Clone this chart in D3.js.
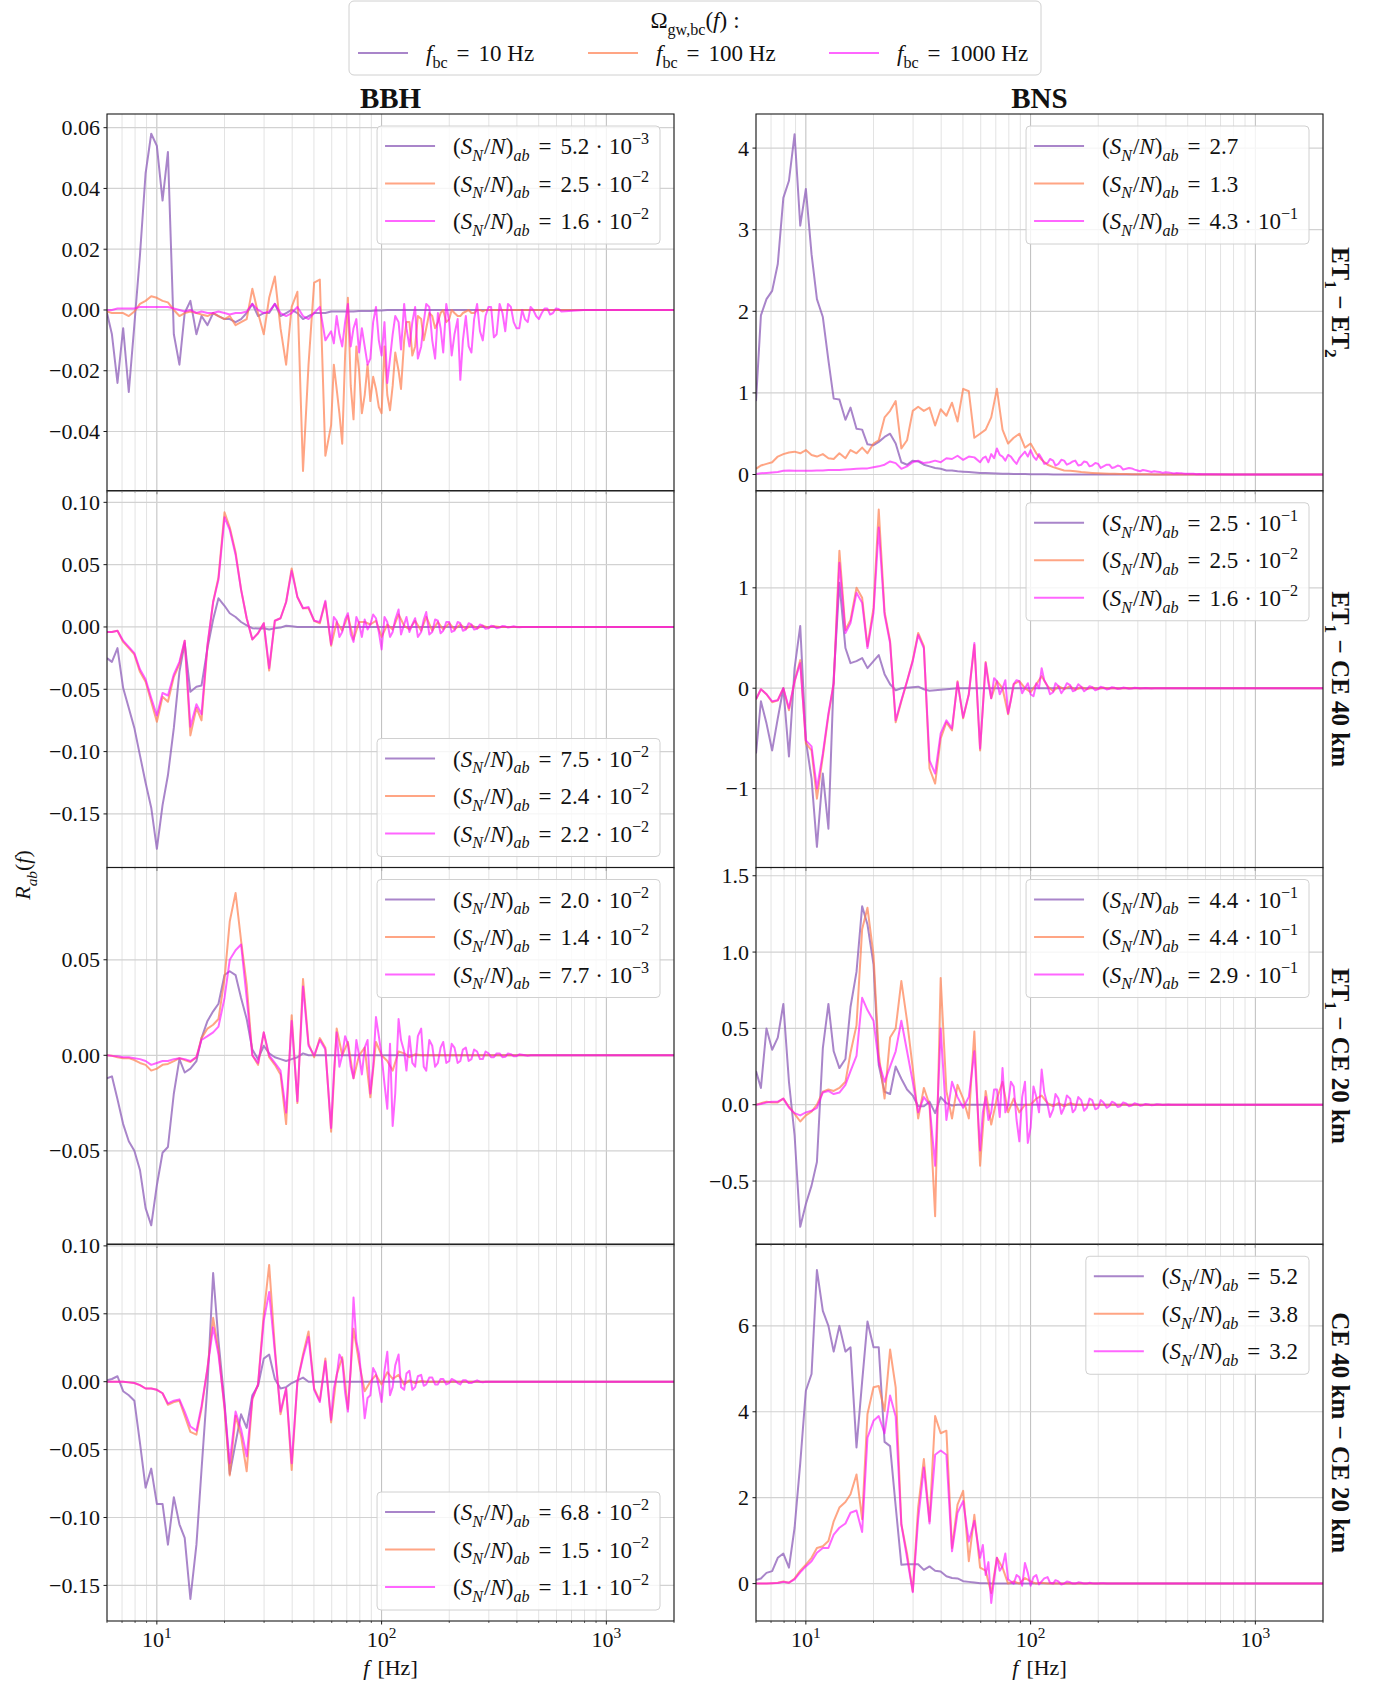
<!DOCTYPE html>
<html><head><meta charset="utf-8">
<script src="https://cdn.jsdelivr.net/npm/d3@7"></script>
<style>
body{margin:0;background:#fff;}
svg text{font-family:"Liberation Serif","DejaVu Serif",serif;fill:#111;}
</style></head><body>
<svg id="chart" width="1386" height="1684"></svg>
<script>
// ---------------- data ----------------
const FREQ = [6.0,6.31,6.68,7.08,7.5,7.94,8.41,8.91,9.44,10,
 10.6,11.2,11.9,12.6,13.3,14.1,15.0,15.8,16.8,17.8,
 18.8,20.0,21.1,22.4,23.7,25.1,26.6,28.2,29.9,31.6,
 33.5,35.5,37.6,39.8,42.2,44.7,47.3,50.1,53.1,56.2,
 59.6,63.1,66.8,70.8,75.0,79.4,84.1,89.1,94.4,100,
 106,112,119,126,133,141,150,158,168,178,
 188,200,211,224,237,251,266,282,299,316,
 335,355,376,398,422,447,473,501,531,562,
 596,631,794,1000,1259,1585,2000];
// extra sample frequencies in the noisy high-frequency band
const FREQ_MID = [61.3,64.9,68.8,72.9,77.2,81.7,86.6,91.7,97.2,103,
 109,115,122,129,137,145,154,163,173,183,
 194,205,218,230,244,258,274,290,307,325,
 345,365,387,410,434,460,487,516,546,579,613];

const FBC_LABELS = ["10 Hz","100 Hz","1000 Hz"];
const COLUMN_TITLES = ["BBH","BNS"];
const ROW_LABELS = ["ET_1 − ET_2","ET_1 − CE 40 km","ET_1 − CE 20 km","CE 40 km − CE 20 km"];
const X_TICK_EXP = [1,2,3];

// BBH, ET1 - ET2
const BBH_ET1ET2_F10 = [-0.001,-0.008,-0.024,-0.006,-0.027,-0.005,0.018,0.045,0.058,0.054,
 0.036,0.052,-0.008,-0.018,-0.001,0.003,-0.008,-0.002,-0.005,-0.001,
 -0.002,-0.003,-0.003,-0.004,-0.003,-0.001,0.002,-0.002,-0.001,-0.001,
 0.002,-0.002,-0.001,0,-0.001,-0.003,-0.002,-0.001,-0.001,-0.001,
 -0.0005,-0.0005,-0.0005,-0.0005,-0.0005,-0.0003,-0.0003,-0.0003,-0.0002,-0.0002,
 0,0,0,0,0,0,0,0,0,0, 0,0,0,0,0,0,0,0,0,0, 0,0,0,0,0,0,0,0,0,0, 0,0,0,0,0,0,0];
const BBH_ET1ET2_F100 = [-0.0005,-0.001,-0.001,-0.001,-0.002,-0.0005,0.002,0.003,0.0045,0.004,
 0.003,0.0025,0,-0.002,-0.001,-0.0005,-0.001,-0.0015,-0.002,-0.001,
 -0.002,-0.003,-0.002,-0.005,-0.004,-0.003,0.007,-0.001,-0.008,0.004,
 0.011,-0.006,-0.018,0.001,0.006,-0.053,-0.018,0.009,0.010,-0.048,
 -0.038,-0.026,-0.044,0.004,-0.036,-0.020,-0.028,-0.030,-0.026,-0.034,
 -0.028,-0.025,-0.020,-0.010,-0.004,-0.012,-0.003,-0.006,-0.002,-0.004,
 0,-0.003,-0.001,-0.002,-0.0005,-0.001,0,-0.0005,0,0,
 0,0,0,0,0,0,0,0,0,0, 0,0,0,0,0,0,0];
const BBH_ET1ET2_F100_MID = [-0.018,-0.034,-0.015,-0.025,-0.012,-0.034,-0.018,-0.022,-0.032,-0.012,
 -0.033,-0.014,-0.026,-0.004,-0.015,-0.002,-0.010,-0.001,-0.006,-0.001,
 -0.004,0,-0.002,-0.001,0,-0.001,0,0,0,0,
 0,0,0,0,0,0,0,0,0,0,0];
const BBH_ET1ET2_F1000 = [0,0,0.0005,0.0005,0.0005,0.0005,0.001,0.001,0.001,0.001,
 0.001,0.001,0.0005,0,-0.0005,0,-0.001,-0.0005,-0.001,-0.001,
 -0.0005,-0.001,-0.0015,-0.001,-0.001,-0.0005,0.002,0,-0.001,-0.0005,
 0.002,-0.001,-0.002,-0.001,0.001,-0.002,-0.003,-0.001,0.001,-0.010,
 -0.007,-0.002,-0.012,0.002,-0.006,-0.014,-0.012,-0.016,0.001,-0.015,
 -0.024,-0.008,-0.004,0.002,-0.012,0.001,-0.012,0.002,-0.010,-0.001,
 -0.014,-0.004,-0.008,-0.023,-0.002,-0.014,0.002,-0.010,0.001,-0.009,
 0.002,-0.007,0.001,-0.006,0,-0.004,0,-0.003,0.0005,-0.0015,
 0.0005,-0.0005,0,0,0,0,0];
const BBH_ET1ET2_F1000_MID = [-0.011,-0.008,-0.004,-0.012,-0.003,-0.006,-0.018,-0.004,-0.010,-0.004,
 -0.016,-0.002,-0.013,-0.006,-0.004,-0.016,-0.004,0.001,-0.016,-0.006,
 0.002,-0.015,-0.003,-0.010,-0.012,-0.003,-0.007,-0.002,0.001,-0.008,
 -0.001,0.002,-0.004,-0.006,-0.003,0.001,-0.002,-0.001,0.0005,-0.001,0.0003];

// BBH, ET1 - CE 40 km
const BBH_ET1CE40_F10 = [-0.025,-0.028,-0.017,-0.049,-0.065,-0.081,-0.103,-0.125,-0.145,-0.178,
 -0.143,-0.119,-0.081,-0.036,-0.013,-0.052,-0.048,-0.047,-0.017,0.006,
 0.023,0.017,0.011,0.008,0.004,0.0013,-0.001,-0.0013,-0.001,-0.002,
 -0.001,-0.0005,0.001,0.0005,0,0,0,0,0,0,
 0,0,0,0,0,0,0,0,0,0, 0,0,0,0,0,0,0,0,0,0, 0,0,0,0,0,0,0,0,0,0, 0,0,0,0,0,0,0,0,0,0, 0,0,0,0,0,0,0];
const BBH_ET1CE40_F100 = [-0.004,-0.004,-0.003,-0.012,-0.017,-0.022,-0.036,-0.044,-0.060,-0.076,
 -0.056,-0.060,-0.040,-0.030,-0.011,-0.087,-0.065,-0.075,-0.015,0.020,
 0.040,0.092,0.080,0.060,0.030,0.007,-0.010,-0.005,0.003,-0.035,
 0.005,0.007,0.020,0.047,0.024,0.015,0.015,0.005,0.003,0.020,
 -0.015,0.004,-0.003,0.009,-0.010,0.004,0.004,0.002,0.005,-0.008,
 0.002,-0.002,0.010,0.001,-0.002,0.005,-0.003,0.008,-0.003,0.004,
 -0.002,0.003,-0.002,0.002,-0.0015,0.0015,-0.001,0.001,-0.0005,0.0005,
 0,0,0,0,0,0,0,0,0,0, 0,0,0,0,0,0,0];
const BBH_ET1CE40_F1000 = [-0.004,-0.004,-0.003,-0.011,-0.016,-0.021,-0.034,-0.042,-0.057,-0.071,
 -0.053,-0.055,-0.038,-0.028,-0.011,-0.080,-0.062,-0.070,-0.014,0.020,
 0.038,0.088,0.078,0.058,0.030,0.007,-0.010,-0.005,0.003,-0.033,
 0.005,0.007,0.020,0.045,0.024,0.015,0.016,0.005,0.004,0.021,
 -0.014,0.005,-0.004,0.011,-0.012,0.003,0.006,0.002,0.007,-0.018,
 0.004,-0.004,0.014,0.002,-0.004,0.007,-0.004,0.012,-0.004,0.005,
 -0.003,0.004,-0.003,0.003,-0.002,0.002,-0.0015,0.001,-0.001,0.0005,
 -0.0005,0.0005,0,0,0,0,0,0,0,0, 0,0,0,0,0,0,0];
const BBH_ET1CE40_F1000_MID = [0.008,-0.008,0.006,-0.006,0.008,-0.008,-0.002,0.010,-0.004,0.008,
 -0.008,0.006,-0.006,0.008,0.002,-0.008,0.006,-0.006,0.006,-0.005,
 0.004,-0.004,0.004,-0.003,0.003,-0.002,0.002,-0.0015,0.001,-0.001,
 0.0008,-0.0005,0.0005,-0.0003,0,0,0,0,0,0,0];

// BBH, ET1 - CE 20 km
const BBH_ET1CE20_F10 = [-0.012,-0.011,-0.023,-0.036,-0.045,-0.050,-0.060,-0.080,-0.089,-0.068,
 -0.051,-0.048,-0.020,-0.002,-0.009,-0.007,-0.003,0.009,0.018,0.023,
 0.027,0.042,0.044,0.042,0.030,0.019,0.003,-0.002,0.005,0.001,
 -0.001,-0.002,-0.003,-0.002,-0.001,0.001,0,0,0,0,
 0,0,0,0,0,0,0,0,0,0, 0,0,0,0,0,0,0,0,0,0, 0,0,0,0,0,0,0,0,0,0, 0,0,0,0,0,0,0,0,0,0, 0,0,0,0,0,0,0];
const BBH_ET1CE20_F100 = [0,-0.0002,-0.001,-0.0015,-0.0015,-0.0025,-0.004,-0.005,-0.008,-0.007,
 -0.005,-0.0045,-0.003,-0.0015,-0.0025,-0.0035,-0.001,0.009,0.014,0.016,
 0.019,0.040,0.070,0.085,0.060,0.037,0,-0.005,0.012,-0.001,
 -0.005,-0.010,-0.036,0.021,-0.025,0.040,0.006,-0.001,0.009,0.004,
 -0.040,0.014,0,0.007,-0.012,0,0.004,-0.022,0.007,0,
 -0.003,-0.008,0.002,0.001,-0.001,0.0005,0,0,0,0,
 0,0,0,0,0,0,0,0,0,0, 0,0,0,0,0,0,0,0,0,0, 0,0,0,0,0,0,0];
const BBH_ET1CE20_F1000 = [0,-0.0003,-0.0005,-0.001,-0.001,-0.0015,-0.002,-0.003,-0.005,-0.004,
 -0.003,-0.003,-0.002,-0.0015,-0.002,-0.003,-0.001,0.008,0.010,0.012,
 0.015,0.030,0.050,0.055,0.058,0.030,0,-0.004,0.012,0,
 -0.004,-0.008,-0.030,0.018,-0.024,0.036,0.005,0,0.008,0.003,
 -0.038,0.012,0,0.006,-0.012,0,0.004,-0.020,0.020,0,
 -0.028,-0.037,0.019,0.002,0.010,-0.006,0.014,-0.008,0.005,-0.004,
 0.007,-0.003,0.004,-0.003,0.004,-0.002,0.002,-0.002,0.001,-0.001,
 0.001,-0.0008,0.0006,-0.0005,0.0003,-0.0003,0,0,0,0,
 0,0,0,0,0,0,0];
const BBH_ET1CE20_F1000_MID = [-0.010,-0.006,0.010,-0.006,0.008,-0.010,0.008,-0.006,0.010,-0.015,
 0.006,-0.020,0.008,-0.008,-0.004,0.010,-0.006,0.008,-0.006,0.004,
 -0.004,0.006,-0.004,0.003,-0.003,0.003,-0.002,0.002,-0.001,0.001,
 -0.001,0.001,-0.0005,0.0005,0,0,0,0,0,0,0];

// BBH, CE 40 km - CE 20 km
const BBH_CE40CE20_F10 = [0.001,0.002,0.004,-0.007,-0.010,-0.014,-0.045,-0.078,-0.064,-0.090,
 -0.090,-0.120,-0.085,-0.105,-0.115,-0.160,-0.120,-0.065,-0.002,0.080,
 0.030,-0.015,-0.068,-0.045,-0.024,-0.034,-0.010,-0.003,0.017,0.020,
 0.002,-0.005,-0.004,-0.001,0.001,0.003,0,0,0,0,
 0,0,0,0,0,0,0,0,0,0, 0,0,0,0,0,0,0,0,0,0, 0,0,0,0,0,0,0,0,0,0, 0,0,0,0,0,0,0,0,0,0, 0,0,0,0,0,0,0];
const BBH_CE40CE20_F100 = [0,0,0,0,-0.0005,-0.001,-0.0025,-0.005,-0.005,-0.006,
 -0.0085,-0.017,-0.015,-0.014,-0.025,-0.037,-0.039,-0.020,0.010,0.047,
 0.023,-0.020,-0.069,-0.025,-0.040,-0.066,-0.013,-0.002,0.050,0.086,
 0.025,-0.024,-0.005,-0.065,0,0.020,0.037,-0.005,-0.014,0.017,
 -0.030,0.005,0.018,-0.020,0.039,0.014,-0.007,0,0.005,-0.002,
 0.007,0.002,0.005,-0.002,0.001,-0.001,0.0005,0,0,0,
 0,0,0,0,0,0,0,0,0,0, 0,0,0,0,0,0,0,0,0,0, 0,0,0,0,0,0,0];
const BBH_CE40CE20_F1000 = [0,0,0,0,-0.0005,-0.001,-0.0025,-0.005,-0.005,-0.006,
 -0.0085,-0.016,-0.014,-0.013,-0.022,-0.033,-0.036,-0.018,0.010,0.040,
 0.020,-0.018,-0.060,-0.022,-0.035,-0.055,-0.012,-0.002,0.045,0.066,
 0.022,-0.022,-0.005,-0.060,0,0.018,0.033,-0.006,-0.015,0.015,
 -0.028,0.004,0.016,-0.022,0.062,0.020,-0.027,-0.010,0.006,-0.015,
 0.022,-0.004,0.020,-0.006,0.008,-0.004,0.005,-0.002,0.003,-0.002,
 0.002,-0.001,0.001,-0.002,0.001,-0.001,0.001,-0.0005,0,0,
 0,0,0,0,0,0,0,0,0,0, 0,0,0,0,0,0,0];
const BBH_CE40CE20_F1000_MID = [-0.005,0.020,-0.008,0.010,0.030,0,-0.012,0.010,-0.004,0.008,
 -0.010,0.012,-0.004,0.006,-0.006,0.004,-0.003,0.003,-0.002,0.002,
 -0.002,0.002,-0.001,0.001,-0.001,0,0,0,0,0,
 0,0,0,0,0,0,0,0,0,0,0];

// BNS, ET1 - ET2
const BNS_ET1ET2_F10 = [0.90,1.95,2.15,2.25,2.58,3.39,3.60,4.17,3.05,3.50,
 2.70,2.15,1.93,1.40,0.93,0.92,0.67,0.82,0.56,0.55,
 0.37,0.36,0.40,0.46,0.50,0.38,0.15,0.12,0.17,0.16,
 0.12,0.10,0.08,0.07,0.05,0.05,0.04,0.035,0.03,0.025,
 0.02,0.018,0.015,0.012,0.01,0.008,0.007,0.006,0.005,0.004,
 0.003,0.002,0.002,0.001,0.001,0,0,0,0,0,
 0,0,0,0,0,0,0,0,0,0, 0,0,0,0,0,0,0,0,0,0, 0,0,0,0,0,0,0];
const BNS_ET1ET2_F100 = [0.07,0.11,0.13,0.15,0.22,0.25,0.27,0.28,0.26,0.30,
 0.24,0.22,0.25,0.20,0.19,0.26,0.20,0.30,0.26,0.33,
 0.26,0.38,0.42,0.70,0.78,0.90,0.32,0.42,0.78,0.83,
 0.78,0.82,0.60,0.80,0.72,0.88,0.65,1.05,1.02,0.45,
 0.50,0.55,0.70,1.05,0.55,0.38,0.45,0.50,0.33,0.38,
 0.26,0.18,0.12,0.09,0.07,0.05,0.045,0.04,0.03,0.025,
 0.02,0.015,0.012,0.01,0.008,0.006,0.005,0.004,0.003,0.002,
 0.002,0.001,0.001,0.001,0,0,0,0,0,0, 0,0,0,0,0,0,0];
const BNS_ET1ET2_F1000 = [0.005,0.015,0.02,0.025,0.03,0.045,0.05,0.045,0.045,0.045,
 0.045,0.05,0.05,0.055,0.055,0.055,0.06,0.065,0.07,0.075,
 0.075,0.09,0.10,0.12,0.16,0.14,0.07,0.10,0.15,0.17,
 0.14,0.15,0.17,0.15,0.20,0.19,0.23,0.18,0.22,0.21,
 0.15,0.22,0.25,0.32,0.22,0.24,0.17,0.20,0.28,0.30,
 0.18,0.20,0.14,0.17,0.13,0.17,0.14,0.17,0.12,0.15,
 0.11,0.13,0.10,0.12,0.09,0.10,0.07,0.075,0.05,0.055,
 0.04,0.04,0.03,0.028,0.02,0.018,0.014,0.01,0.008,0.006,
 0.004,0.003,0.001,0,0,0,0];
const BNS_ET1ET2_F1000_MID = [0.20,0.15,0.20,0.24,0.17,0.22,0.13,0.24,0.22,0.22,
 0.25,0.13,0.19,0.11,0.18,0.12,0.16,0.11,0.16,0.10,
 0.14,0.08,0.12,0.08,0.11,0.06,0.08,0.06,0.04,0.05,
 0.03,0.035,0.02,0.025,0.012,0.015,0.008,0.009,0.004,0.004,0.002];

// BNS, ET1 - CE 40 km
const BNS_ET1CE40_F10 = [-0.65,-0.13,-0.35,-0.62,-0.30,0,-0.68,0.20,0.62,-0.52,
 -0.90,-1.58,-0.85,-1.40,0.10,1.05,0.40,0.25,0.27,0.30,
 0.20,0.27,0.33,0.14,0.04,-0.02,0,0.005,0.01,0.015,
 -0.01,-0.025,-0.02,-0.015,-0.01,-0.005,0,0,0,0,
 0,0,0,0,0,0,0,0,0,0, 0,0,0,0,0,0,0,0,0,0, 0,0,0,0,0,0,0,0,0,0, 0,0,0,0,0,0,0,0,0,0, 0,0,0,0,0,0,0];
const BNS_ET1CE40_F100 = [-0.11,-0.01,-0.06,-0.14,-0.12,0,-0.22,0.07,0.28,-0.55,
 -0.62,-1.10,-0.68,-0.27,0.05,1.37,0.58,0.68,1.00,0.90,
 0.42,0.80,1.78,0.76,0.47,-0.34,-0.13,0.07,0.28,0.55,
 0.42,-0.80,-0.95,-0.50,-0.34,-0.42,0.07,-0.30,-0.06,0.43,
 -0.62,0.26,-0.10,0.07,0,-0.26,0.04,0.07,0,-0.04,
 0.04,0.12,0.02,-0.03,0.02,-0.01,0.02,-0.015,0.01,-0.008,
 0.006,-0.005,0.004,-0.003,0.002,-0.002,0.001,0,0,0,
 0,0,0,0,0,0,0,0,0,0, 0,0,0,0,0,0,0];
const BNS_ET1CE40_F1000 = [-0.11,-0.01,-0.06,-0.13,-0.12,0,-0.20,0.07,0.25,-0.52,
 -0.58,-1.00,-0.65,-0.25,0.05,1.25,0.55,0.65,0.95,0.85,
 0.40,0.75,1.60,0.73,0.45,-0.32,-0.12,0.07,0.27,0.53,
 0.40,-0.72,-0.85,-0.45,-0.32,-0.40,0.06,-0.29,-0.06,0.45,
 -0.60,0.25,-0.10,0.07,0,-0.25,0.04,0.07,0,-0.06,
 0.05,0.20,0.02,-0.04,0.02,-0.01,0.03,-0.02,0.015,-0.01,
 0.01,-0.008,0.006,-0.005,0.004,-0.003,0.002,-0.002,0.001,0,
 0,0,0,0,0,0,0,0,0,0, 0,0,0,0,0,0,0];
const BNS_ET1CE40_F1000_MID = [-0.20,0.05,0.10,-0.06,0.08,-0.12,0.08,-0.05,0.05,-0.08,
 0,0.08,-0.06,0.05,-0.05,0.05,-0.03,0.04,-0.03,0.02,
 -0.02,0.015,-0.012,0.01,-0.008,0.006,-0.005,0.004,-0.003,0.002,
 -0.002,0,0,0,0,0,0,0,0,0,0];

// BNS, ET1 - CE 20 km
const BNS_ET1CE20_F10 = [0.22,0.11,0.50,0.36,0.44,0.66,0.15,-0.20,-0.80,-0.65,
 -0.53,-0.375,0.37,0.66,0.35,0.24,0.30,0.64,0.87,1.30,
 1.18,0.92,0.26,0.085,0.07,0.25,0.17,0.10,0.06,-0.01,
 -0.01,0.02,-0.055,0.05,0.01,-0.005,0,0,0,0,
 0,0,0,0,0,0,0,0,0,0, 0,0,0,0,0,0,0,0,0,0, 0,0,0,0,0,0,0,0,0,0, 0,0,0,0,0,0,0,0,0,0, 0,0,0,0,0,0,0];
const BNS_ET1CE20_F100 = [0,0.01,0.02,0.015,0.015,0.04,-0.013,-0.06,-0.11,-0.07,
 -0.045,0,0.085,0.10,0.09,0.11,0.15,0.34,0.52,1.15,
 1.29,0.98,0.33,0.04,0.44,0.50,0.81,0.55,0.24,-0.09,
 0.11,0,-0.73,0.83,0.09,-0.09,0.13,0.04,-0.09,0.48,
 -0.40,0.09,-0.13,0.04,0.15,-0.05,0.04,-0.05,0,0,
 0.04,0.06,0.01,-0.01,0.01,-0.01,0.01,0,0,0,
 0,0,0,0,0,0,0,0,0,0, 0,0,0,0,0,0,0,0,0,0, 0,0,0,0,0,0,0];
const BNS_ET1CE20_F1000 = [0,0.005,0.015,0.02,0.02,0.04,-0.02,-0.055,-0.07,-0.05,
 -0.04,-0.02,0.08,0.09,0.07,0.08,0.13,0.22,0.32,0.70,
 0.62,0.55,0.28,0.15,0.25,0.35,0.55,0.35,0.15,-0.05,
 0.05,0,-0.40,0.50,-0.10,0.15,0.05,-0.02,0.05,0.35,
 -0.30,0.05,-0.05,0.10,0.24,0,0.12,-0.24,0.15,-0.15,
 0.05,0.23,0,-0.03,0.04,-0.02,0.04,-0.03,0.03,-0.02,
 0.03,-0.02,0.015,-0.01,0.01,-0.01,0.008,-0.005,0.004,-0.003,
 0.002,-0.002,0.001,0,0,0,0,0,0,0, 0,0,0,0,0,0,0];
const BNS_ET1CE20_F1000_MID = [-0.05,-0.10,0.10,-0.08,-0.05,0.15,-0.10,0.05,-0.25,0.12,
 -0.05,0.08,-0.08,0.07,-0.06,0.06,-0.05,0.05,-0.04,0.04,
 -0.03,0.03,-0.02,0.02,-0.015,0.015,-0.01,0.01,-0.006,0.005,
 -0.004,0.003,-0.002,0.002,0,0,0,0,0,0,0];

// BNS, CE 40 km - CE 20 km
const BNS_CE40CE20_F10 = [0.08,0.12,0.25,0.29,0.60,0.70,0.37,1.30,2.80,4.49,
 4.88,7.30,6.35,6.00,5.40,6.00,5.40,5.50,3.17,4.70,
 6.10,5.50,5.50,3.30,3.20,1.80,0.44,0.45,0.45,0.45,
 0.32,0.40,0.30,0.28,0.17,0.13,0.12,0.055,0.04,0.025,
 0.01,0.005,0,0,0,0,0,0,0,0,
 0,0,0,0,0,0,0,0,0,0, 0,0,0,0,0,0,0,0,0,0, 0,0,0,0,0,0,0,0,0,0, 0,0,0,0,0,0,0];
const BNS_CE40CE20_F100 = [0,0,0,0.01,0.02,0.05,0.02,0.12,0.30,0.44,
 0.60,0.83,0.87,0.99,1.45,1.77,1.90,2.08,2.54,1.50,
 3.95,4.57,4.60,4.02,5.45,4.57,1.38,0.70,-0.18,1.77,
 2.90,1.45,3.90,3.50,3.56,0.83,1.84,2.16,0.52,1.60,
 0.37,0.30,-0.22,0.60,0.37,0,0.05,0,0.13,0.05,
 0,0.02,0,0.01,0,0,0,0,0,0,
 0,0,0,0,0,0,0,0,0,0, 0,0,0,0,0,0,0,0,0,0, 0,0,0,0,0,0,0];
const BNS_CE40CE20_F1000 = [0,0,0,0.01,0.015,0.04,0.02,0.10,0.26,0.40,
 0.52,0.72,0.83,0.83,1.14,1.30,1.40,1.65,1.70,1.20,
 3.40,3.79,3.90,3.50,4.38,3.89,1.38,0.60,-0.20,1.50,
 2.70,1.40,3.00,3.10,3.00,0.75,1.65,1.92,0.98,1.46,
 0.60,0.20,-0.45,0.60,0.40,0.10,0,0.15,0.48,-0.05,
 0.20,0.05,0.15,0,0.05,0,0.03,0,0.02,0,
 0.01,0,0.005,0,0,0,0,0,0,0,
 0,0,0,0,0,0,0,0,0,0, 0,0,0,0,0,0,0];
const BNS_CE40CE20_F1000_MID = [0.90,0.50,0.10,0.30,0.70,0.05,0.20,-0.05,0.25,0.15,
 -0.02,0.12,0.02,0.08,-0.02,0.05,0,0.03,0,0.02,
 0,0.01,0,0,0,0,0,0,0,0,
 0,0,0,0,0,0,0,0,0,0,0];

// legend values (S_N/N)_ab
const SNR_BBH_ET1ET2 = ["5.2e-3","2.5e-2","1.6e-2"];
const SNR_BBH_ET1CE40 = ["7.5e-2","2.4e-2","2.2e-2"];
const SNR_BBH_ET1CE20 = ["2.0e-2","1.4e-2","7.7e-3"];
const SNR_BBH_CE40CE20 = ["6.8e-2","1.5e-2","1.1e-2"];
const SNR_BNS_ET1ET2 = ["2.7","1.3","4.3e-1"];
const SNR_BNS_ET1CE40 = ["2.5e-1","2.5e-2","1.6e-2"];
const SNR_BNS_ET1CE20 = ["4.4e-1","4.4e-1","2.9e-1"];
const SNR_BNS_CE40CE20 = ["5.2","3.8","3.2"];

// y tick values
const YT_BBH_ET1ET2 = [-0.04,-0.02,0,0.02,0.04,0.06];
const YT_BBH_ET1CE40 = [-0.15,-0.10,-0.05,0,0.05,0.10];
const YT_BBH_ET1CE20 = [-0.05,0,0.05];
const YT_BBH_CE40CE20 = [-0.15,-0.10,-0.05,0,0.05,0.10];
const YT_BNS_ET1ET2 = [0,1,2,3,4];
const YT_BNS_ET1CE40 = [-1,0,1];
const YT_BNS_ET1CE20 = [-0.5,0,0.5,1.0,1.5];
const YT_BNS_CE40CE20 = [0,2,4,6];

// ---------------- layout / style ----------------
const X_DOMAIN = [6, 2000];
const COLS = [[107, 674], [756, 1323]];
const ROW_TOP = 114, ROW_H = 376.75;
const COLORS = ["#9467bd", "#ff7f50", "#ff00ff"];
const OPAC = [0.8, 0.7, 0.6];
const FS = 22, LFS = 23;

const PANELS = [
 {row:0,col:0,yDomain:[-0.0595,0.0645],yTicks:YT_BBH_ET1ET2,fmt:".2f",data:[BBH_ET1ET2_F10,BBH_ET1ET2_F100,BBH_ET1ET2_F1000],mid:[null,BBH_ET1ET2_F100_MID,BBH_ET1ET2_F1000_MID],snr:SNR_BBH_ET1ET2,loc:"upper"},
 {row:1,col:0,yDomain:[-0.193,0.1093],yTicks:YT_BBH_ET1CE40,fmt:".2f",data:[BBH_ET1CE40_F10,BBH_ET1CE40_F100,BBH_ET1CE40_F1000],mid:[null,null,BBH_ET1CE40_F1000_MID],snr:SNR_BBH_ET1CE40,loc:"lower"},
 {row:2,col:0,yDomain:[-0.0989,0.0983],yTicks:YT_BBH_ET1CE20,fmt:".2f",data:[BBH_ET1CE20_F10,BBH_ET1CE20_F100,BBH_ET1CE20_F1000],mid:[null,null,BBH_ET1CE20_F1000_MID],snr:SNR_BBH_ET1CE20,loc:"upper"},
 {row:3,col:0,yDomain:[-0.1762,0.1012],yTicks:YT_BBH_CE40CE20,fmt:".2f",data:[BBH_CE40CE20_F10,BBH_CE40CE20_F100,BBH_CE40CE20_F1000],mid:[null,null,BBH_CE40CE20_F1000_MID],snr:SNR_BBH_CE40CE20,loc:"lower"},
 {row:0,col:1,yDomain:[-0.199,4.418],yTicks:YT_BNS_ET1ET2,fmt:"d",data:[BNS_ET1ET2_F10,BNS_ET1ET2_F100,BNS_ET1ET2_F1000],mid:[null,null,BNS_ET1ET2_F1000_MID],snr:SNR_BNS_ET1ET2,loc:"upper"},
 {row:1,col:1,yDomain:[-1.786,1.967],yTicks:YT_BNS_ET1CE40,fmt:"d",data:[BNS_ET1CE40_F10,BNS_ET1CE40_F100,BNS_ET1CE40_F1000],mid:[null,null,BNS_ET1CE40_F1000_MID],snr:SNR_BNS_ET1CE40,loc:"upper"},
 {row:2,col:1,yDomain:[-0.914,1.554],yTicks:YT_BNS_ET1CE20,fmt:".1f",data:[BNS_ET1CE20_F10,BNS_ET1CE20_F100,BNS_ET1CE20_F1000],mid:[null,null,BNS_ET1CE20_F1000_MID],snr:SNR_BNS_ET1CE20,loc:"upper"},
 {row:3,col:1,yDomain:[-0.871,7.90],yTicks:YT_BNS_CE40CE20,fmt:"d",data:[BNS_CE40CE20_F10,BNS_CE40CE20_F100,BNS_CE40CE20_F1000],mid:[null,null,BNS_CE40CE20_F1000_MID],snr:SNR_BNS_CE40CE20,loc:"upper"}
];

// ---------------- helpers ----------------
function addMath(t, parts, base) {
  let shift = 0;
  parts.forEach(p => {
    const ts = t.append("tspan").text(p.t);
    let target = 0;
    if (p.sub) target = base * 0.3;
    if (p.sup) target = -base * 0.42;
    const dy = target - shift; shift = target;
    if (dy) ts.attr("dy", dy);
    if (p.sub || p.sup) ts.attr("font-size", base * 0.7);
    if (p.it) ts.attr("font-style", "italic");
    if (p.dx) ts.attr("dx", p.dx);
  });
}
function snrParts(s) {
  const [m, e] = s.split("e");
  const parts = [{t:"("},{t:"S",it:1},{t:"N",it:1,sub:1},{t:"/",dx:1},{t:"N",it:1},{t:")"},{t:"ab",it:1,sub:1},{t:"=",dx:9},{t:m,dx:9}];
  if (e) parts.push({t:"·",dx:6},{t:"10",dx:6},{t:e.replace("-","−"),sup:1});
  return parts;
}
function subParts(s) {
  const parts = [];
  s.split(/(_\w)/).forEach(seg => {
    if (!seg) return;
    if (seg[0] === "_") parts.push({t:seg.slice(1), sub:1});
    else parts.push({t:seg});
  });
  return parts;
}
const minus = s => s.replace(/-/g, "−");

// ---------------- draw ----------------
const svg = d3.select("#chart");
svg.append("rect").attr("width", 1386).attr("height", 1684).attr("fill", "#fff");
const defs = svg.append("defs");

PANELS.forEach((p, i) => {
  const [x0, x1] = COLS[p.col];
  const top = ROW_TOP + p.row * ROW_H, bot = top + ROW_H;
  const x = d3.scaleLog().domain(X_DOMAIN).range([x0, x1]);
  const y = d3.scaleLinear().domain(p.yDomain).range([bot, top]);
  const g = svg.append("g");
  const xt = x.ticks();
  const isMajor = v => Math.abs(Math.log10(v) - Math.round(Math.log10(v))) < 1e-9;

  g.selectAll(null).data(xt.filter(v => !isMajor(v))).join("line")
    .attr("x1", d => x(d)).attr("x2", d => x(d)).attr("y1", top).attr("y2", bot)
    .attr("stroke", "#e3e3e3").attr("stroke-width", 1);
  g.selectAll(null).data(xt.filter(isMajor)).join("line")
    .attr("x1", d => x(d)).attr("x2", d => x(d)).attr("y1", top).attr("y2", bot)
    .attr("stroke", "#bdbdbd").attr("stroke-width", 1);
  const yt = p.yTicks.filter(v => v >= p.yDomain[0] && v <= p.yDomain[1]);
  g.selectAll(null).data(yt).join("line")
    .attr("x1", x0).attr("x2", x1).attr("y1", d => y(d)).attr("y2", d => y(d))
    .attr("stroke", "#d2d2d2").attr("stroke-width", 1.2);

  defs.append("clipPath").attr("id", "clip" + i).append("rect")
    .attr("x", x0).attr("y", top).attr("width", x1 - x0).attr("height", bot - top);
  const lg = g.append("g").attr("clip-path", `url(#clip${i})`);
  const line = d3.line().x(d => x(d[0])).y(d => y(d[1]));
  p.data.forEach((vals, si) => {
    const n = Math.min(vals.length, FREQ.length);
    let pts = [];
    for (let j = 0; j < n; j++) pts.push([FREQ[j], vals[j]]);
    const mid = p.mid[si];
    if (mid) {
      const m = Math.min(mid.length, FREQ_MID.length);
      for (let j = 0; j < m; j++) pts.push([FREQ_MID[j], mid[j]]);
      pts.sort((a, b) => a[0] - b[0]);
    }
    lg.append("path").attr("d", line(pts)).attr("fill", "none")
      .attr("stroke", COLORS[si]).attr("stroke-opacity", OPAC[si])
      .attr("stroke-width", 2).attr("stroke-linejoin", "round");
  });

  // spines
  g.append("rect").attr("x", x0).attr("y", top).attr("width", x1 - x0).attr("height", bot - top)
    .attr("fill", "none").attr("stroke", "#1a1a1a").attr("stroke-width", 1.1);

  // y ticks + labels
  const f = d3.format(p.fmt);
  g.selectAll(null).data(yt).join("line")
    .attr("x1", x0 - 3.5).attr("x2", x0).attr("y1", d => y(d)).attr("y2", d => y(d))
    .attr("stroke", "#1a1a1a").attr("stroke-width", 1);
  g.selectAll(null).data(yt).join("text")
    .attr("x", x0 - 7).attr("y", d => y(d)).attr("dy", "0.34em")
    .attr("text-anchor", "end").attr("font-size", FS)
    .text(d => minus(f(d)));

  // x ticks at bottom of each panel
  g.selectAll(null).data(xt).join("line")
    .attr("x1", d => x(d)).attr("x2", d => x(d)).attr("y1", bot)
    .attr("y2", d => bot + (isMajor(d) ? 3.5 : 2))
    .attr("stroke", "#1a1a1a").attr("stroke-width", d => isMajor(d) ? 1 : 0.7);

  if (p.row === 3) {
    X_TICK_EXP.forEach(e => {
      const t = g.append("text").attr("x", x(Math.pow(10, e))).attr("y", 1647)
        .attr("text-anchor", "middle").attr("font-size", FS);
      addMath(t, [{t:"10"},{t:String(e),sup:1}], FS);
    });
    const xl = g.append("text").attr("x", (x0 + x1) / 2).attr("y", 1675)
      .attr("text-anchor", "middle").attr("font-size", FS);
    addMath(xl, [{t:"f",it:1},{t:"[Hz]",dx:8}], FS);
  }

  // legend
  const leg = g.append("g");
  const tEls = p.snr.map(s => {
    const t = leg.append("text").attr("x", 0).attr("y", 0).attr("font-size", LFS);
    addMath(t, snrParts(s), LFS);
    return t;
  });
  const tw = d3.max(tEls, t => t.node().getBBox().width);
  const bw = 8 + 50 + 18 + tw + 11, bh = 118;
  const bx = x1 - 14 - bw;
  const by = p.loc === "upper" ? top + 12 : bot - 11 - bh;
  leg.insert("rect", ":first-child").attr("x", bx).attr("y", by).attr("width", bw).attr("height", bh)
    .attr("rx", 4).attr("fill", "#fff").attr("fill-opacity", 0.8)
    .attr("stroke", "#d0d0d0").attr("stroke-width", 1);
  tEls.forEach((t, k) => {
    const ry = by + 20 + k * 37.5;
    t.attr("x", bx + 76).attr("y", ry + 8);
    leg.append("line").attr("x1", bx + 8).attr("x2", bx + 58).attr("y1", ry).attr("y2", ry)
      .attr("stroke", COLORS[k]).attr("stroke-opacity", OPAC[k]).attr("stroke-width", 2.2);
  });

  // column titles
  if (p.row === 0) {
    g.append("text").attr("x", (x0 + x1) / 2).attr("y", 108).attr("text-anchor", "middle")
      .attr("font-size", 29).attr("font-weight", "bold").text(COLUMN_TITLES[p.col]);
  }
  // row labels on the right
  if (p.col === 1) {
    const cy = (top + bot) / 2;
    const t = g.append("text").attr("transform", `translate(1332,${cy}) rotate(90)`)
      .attr("text-anchor", "middle").attr("font-size", 25).attr("font-weight", "bold");
    addMath(t, subParts(ROW_LABELS[p.row]), 25);
  }
});

// y label
const yl = svg.append("text").attr("transform", "translate(30,875) rotate(-90)")
  .attr("text-anchor", "middle").attr("font-size", FS);
addMath(yl, [{t:"R",it:1},{t:"ab",it:1,sub:1},{t:"("},{t:"f",it:1},{t:")"}], FS);

// top legend
const tl = svg.append("g");
tl.append("rect").attr("x", 349).attr("y", 1).attr("width", 692).attr("height", 74).attr("rx", 5)
  .attr("fill", "#fff").attr("stroke", "#d0d0d0").attr("stroke-width", 1);
const tt = tl.append("text").attr("x", 695).attr("y", 28).attr("text-anchor", "middle").attr("font-size", LFS);
addMath(tt, [{t:"Ω"},{t:"gw,bc",sub:1},{t:"("},{t:"f",it:1},{t:")"},{t:":",dx:6}], LFS);
const TOP_ITEM_X = [358, 588, 829];
FBC_LABELS.forEach((lab, k) => {
  const sx = TOP_ITEM_X[k];
  tl.append("line").attr("x1", sx).attr("x2", sx + 50).attr("y1", 53).attr("y2", 53)
    .attr("stroke", COLORS[k]).attr("stroke-opacity", OPAC[k]).attr("stroke-width", 2.2);
  const t = tl.append("text").attr("x", sx + 68).attr("y", 61).attr("font-size", LFS);
  addMath(t, [{t:"f",it:1},{t:"bc",sub:1},{t:"=",dx:9},{t:lab,dx:9}], LFS);
});
</script>
</body></html>
